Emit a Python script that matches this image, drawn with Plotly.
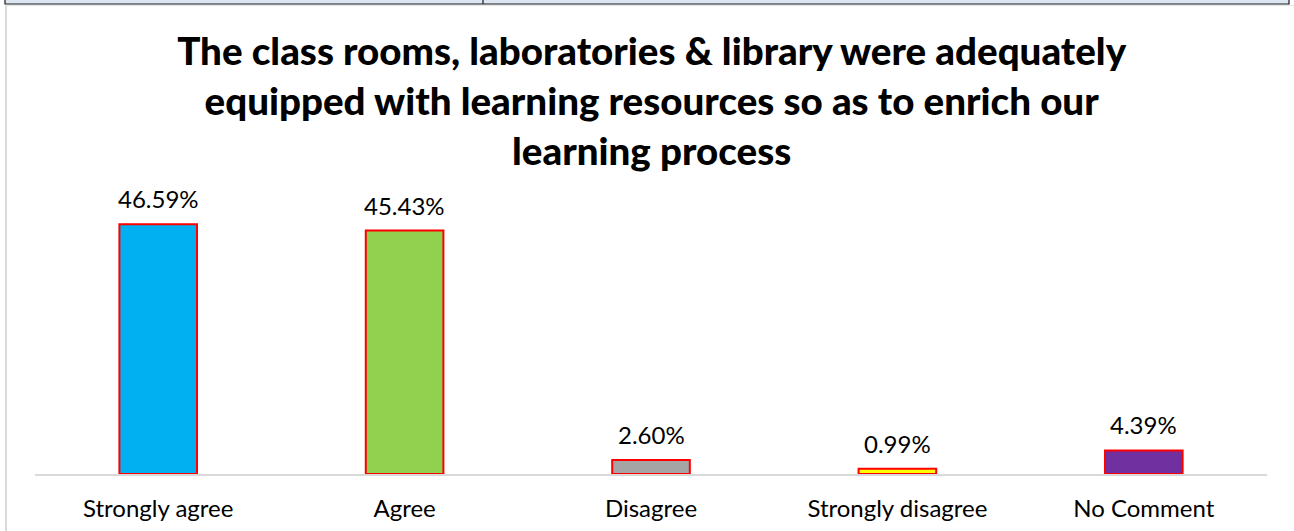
import plotly.graph_objects as go

categories = ["Strongly agree", "Agree", "Disagree", "Strongly disagree", "No Comment"]
values = [46.59, 45.43, 2.60, 0.99, 4.39]
labels = ["46.59%", "45.43%", "2.60%", "0.99%", "4.39%"]
colors = ["#00B0F0", "#92D050", "#A5A5A5", "#FFFF00", "#7030A0"]
title_lines = [
    "The class rooms, laboratories & library were adequately",
    "equipped with learning resources so as to enrich our",
    "learning process",
]

W, H = 1294, 531
ML, MR, MT, MB = 35, 27, 206, 57
PW = W - ML - MR
PH = H - MT - MB

def px_x(p):
    return (p - ML) / PW

def px_y(p):
    return (H - MB - p) / PH

fig = go.Figure(
    go.Bar(
        x=categories,
        y=values,
        marker=dict(color=colors, line=dict(color="#FF0000", width=2)),
        cliponaxis=False,
        width=0.315,
    )
)

for c, v, t in zip(categories, values, labels):
    fig.add_annotation(
        x=c, y=v, xref="x", yref="y", text=t, showarrow=False,
        yanchor="bottom", yshift=9,
        font=dict(family="Lato", size=24, color="#000000"),
    )

shapes = [
    # top strip (table row fragment)
    dict(type="rect", xref="paper", yref="paper",
         x0=px_x(5), x1=px_x(1289), y0=px_y(4), y1=px_y(-2),
         fillcolor="#DCE6F2", line=dict(color="#1a1a1a", width=1.2), layer="above"),
    dict(type="line", xref="paper", yref="paper",
         x0=px_x(483), x1=px_x(483), y0=px_y(4), y1=px_y(0),
         line=dict(color="#1a1a1a", width=1.2)),
    # chart frame (light gray)
    dict(type="line", xref="paper", yref="paper",
         x0=px_x(6), x1=px_x(6), y0=px_y(5.5), y1=px_y(H + 2),
         line=dict(color="#D9D9D9", width=2)),
    dict(type="line", xref="paper", yref="paper",
         x0=px_x(6), x1=px_x(W + 2), y0=px_y(5.5), y1=px_y(5.5),
         line=dict(color="#E6E6E6", width=1.2)),
]

fig.update_layout(
    width=W, height=H,
    margin=dict(l=ML, r=MR, t=MT, b=MB, pad=0, autoexpand=False),
    paper_bgcolor="#FFFFFF", plot_bgcolor="#FFFFFF",
    showlegend=False,
    bargap=0.685,
    title=dict(
        text="<br>".join(title_lines),
        x=0.5036, xanchor="center", xref="container",
        y=1 - 65 / H, yanchor="middle", yref="container",
        font=dict(family="Lato", size=38.5, color="#000000", weight=900),
    ),
    xaxis=dict(
        showgrid=False, showline=True, linecolor="#D9D9D9", linewidth=2,
        ticks="", tickfont=dict(family="Lato", size=24, color="#000000"),
        ticklabelstandoff=12, automargin=False,
    ),
    yaxis=dict(range=[0, 50], visible=False, showgrid=False, automargin=False),
    shapes=shapes,
)

fig.write_html(
    "out.html",
    config={"displayModeBar": False},
    post_script="document.body.style.margin='0px';document.body.style.overflow='hidden';",
)
